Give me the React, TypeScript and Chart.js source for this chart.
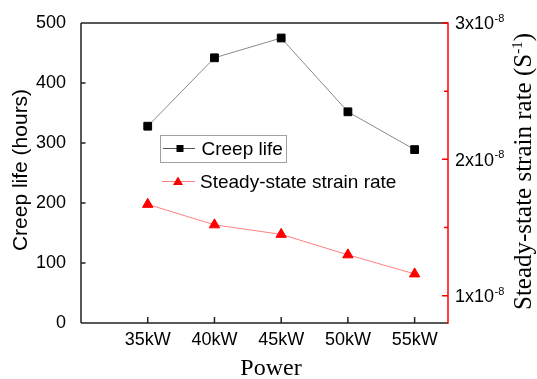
import React, { useEffect, useRef } from 'react';
import { Chart, registerables } from 'chart.js';

Chart.register(...registerables);

// ---- data ----
const powerLabels = ['35kW', '40kW', '45kW', '50kW', '55kW'];
const powerPositions = [1, 2, 3, 4, 5];
const creepLife = [328, 442, 475, 352, 289];
const strainRate = [1.67e-8, 1.52e-8, 1.45e-8, 1.3e-8, 1.16e-8];
const leftTicks = [0, 100, 200, 300, 400, 500];
const rightMajorTicks = [1e-8, 2e-8, 3e-8];
const rightMinorTicks = [1.5e-8, 2.5e-8];
const rightTickMantissa = ['1', '2', '3'];
const rightTickExponent = '-8';
const legendLabels = ['Creep life', 'Steady-state strain rate'];
const leftTitle = 'Creep life (hours)';
const rightTitleMain = 'Steady-state strain rate (S';
const rightTitleSup = '-1';
const rightTitleEnd = ')';
const xTitle = 'Power';

const SANS = "'Liberation Sans', Arial, sans-serif";
const SERIF = "'Liberation Serif', 'Times New Roman', serif";

const decor = {
  id: 'decor',
  beforeDatasetsDraw(chart: any) {
    const ctx = chart.ctx as CanvasRenderingContext2D;
    const a = chart.chartArea;
    const sx = chart.scales.x;
    const sy = chart.scales.y;
    const sy1 = chart.scales.y1;
    ctx.save();
    ctx.lineWidth = 1.5;
    ctx.strokeStyle = '#222';
    ctx.beginPath();
    ctx.moveTo(a.left, a.top);
    ctx.lineTo(a.right, a.top);
    ctx.moveTo(a.left, a.top);
    ctx.lineTo(a.left, a.bottom);
    ctx.moveTo(a.left, a.bottom);
    ctx.lineTo(a.right, a.bottom);
    for (const v of leftTicks) {
      const py = sy.getPixelForValue(v);
      ctx.moveTo(a.left, py);
      ctx.lineTo(a.left + 4.5, py);
    }
    for (const v of powerPositions) {
      const px = sx.getPixelForValue(v);
      ctx.moveTo(px, a.bottom);
      ctx.lineTo(px, a.bottom - 6);
    }
    ctx.stroke();

    ctx.strokeStyle = '#ff0000';
    ctx.beginPath();
    ctx.moveTo(a.right, a.top - 0.75);
    ctx.lineTo(a.right, a.bottom + 0.75);
    for (const v of rightMajorTicks) {
      const py = sy1.getPixelForValue(v);
      ctx.moveTo(a.right, py);
      ctx.lineTo(a.right - 6, py);
    }
    for (const v of rightMinorTicks) {
      const py = sy1.getPixelForValue(v);
      ctx.moveTo(a.right, py);
      ctx.lineTo(a.right - 4, py);
    }
    ctx.stroke();
    ctx.restore();
  },
  afterDraw(chart: any) {
    const ctx = chart.ctx as CanvasRenderingContext2D;
    const a = chart.chartArea;
    const sy1 = chart.scales.y1;
    ctx.save();
    ctx.fillStyle = '#000';

    // right tick labels with superscript exponent
    ctx.textAlign = 'left';
    ctx.textBaseline = 'alphabetic';
    rightMajorTicks.forEach((v, i) => {
      const py = sy1.getPixelForValue(v);
      const base = rightTickMantissa[i] + 'x10';
      ctx.font = `18px ${SANS}`;
      const x0 = a.right + 7;
      ctx.fillText(base, x0, py + 6.4);
      const w = ctx.measureText(base).width;
      ctx.font = `11px ${SANS}`;
      ctx.fillText(rightTickExponent, x0 + w + 0.5, py - 1);
    });

    // left title
    ctx.save();
    ctx.translate(27, 170);
    ctx.rotate(-Math.PI / 2);
    ctx.font = `21px ${SANS}`;
    ctx.textAlign = 'center';
    ctx.textBaseline = 'alphabetic';
    ctx.fillText(leftTitle, 0, 0);
    ctx.restore();

    // right title
    ctx.save();
    ctx.translate(531, 171.5);
    ctx.rotate(-Math.PI / 2);
    ctx.textAlign = 'left';
    ctx.textBaseline = 'alphabetic';
    ctx.font = `25px ${SERIF}`;
    const w1 = ctx.measureText(rightTitleMain).width;
    const w3 = ctx.measureText(rightTitleEnd).width;
    ctx.font = `15px ${SERIF}`;
    const w2 = ctx.measureText(rightTitleSup).width;
    const total = w1 + w2 + w3;
    let cx = -total / 2;
    ctx.font = `25px ${SERIF}`;
    ctx.fillText(rightTitleMain, cx, 0);
    cx += w1;
    ctx.font = `15px ${SERIF}`;
    ctx.fillText(rightTitleSup, cx, -9);
    cx += w2;
    ctx.font = `25px ${SERIF}`;
    ctx.fillText(rightTitleEnd, cx, 0);
    ctx.restore();

    // x title
    ctx.font = `24px ${SERIF}`;
    ctx.textAlign = 'center';
    ctx.textBaseline = 'alphabetic';
    ctx.fillText(xTitle, 271, 375);

    // legend
    ctx.lineWidth = 1;
    ctx.strokeStyle = '#a0a0a0';
    ctx.strokeRect(160.5, 135.5, 126, 27);

    ctx.strokeStyle = '#555';
    ctx.beginPath();
    ctx.moveTo(163, 148.5);
    ctx.lineTo(195, 148.5);
    ctx.stroke();
    ctx.fillStyle = '#000';
    ctx.fillRect(176.5, 145, 7, 7);

    ctx.strokeStyle = '#ff8080';
    ctx.beginPath();
    ctx.moveTo(162, 181.5);
    ctx.lineTo(195, 181.5);
    ctx.stroke();
    ctx.fillStyle = '#ff0000';
    ctx.beginPath();
    ctx.moveTo(178, 176.5);
    ctx.lineTo(183, 185);
    ctx.lineTo(173, 185);
    ctx.closePath();
    ctx.fill();

    ctx.fillStyle = '#000';
    ctx.font = `19px ${SANS}`;
    ctx.textAlign = 'left';
    ctx.fillText(legendLabels[0], 201.5, 155.3);
    ctx.fillText(legendLabels[1], 200, 188.3);

    ctx.restore();
  },
};

export default function App() {
  const ref = useRef<HTMLCanvasElement>(null);
  useEffect(() => {
    const canvas = ref.current;
    if (!canvas) return;
    const chart = new Chart(canvas, {
      type: 'line',
      data: {
        datasets: [
          {
            label: legendLabels[0],
            data: powerPositions.map((x, i) => ({ x, y: creepLife[i] })),
            yAxisID: 'y',
            borderColor: '#8a8a8a',
            borderWidth: 1,
            pointStyle: 'rect',
            pointRadius: 5.5,
            pointBackgroundColor: '#000',
            pointBorderColor: '#000',
            pointBorderWidth: 1,
            tension: 0,
          },
          {
            label: legendLabels[1],
            data: powerPositions.map((x, i) => ({ x, y: strainRate[i] })),
            yAxisID: 'y1',
            borderColor: '#ff8080',
            borderWidth: 1,
            pointStyle: 'triangle',
            pointRadius: 6,
            pointBackgroundColor: '#ff0000',
            pointBorderColor: '#ff0000',
            pointBorderWidth: 1,
            tension: 0,
          },
        ],
      },
      options: {
        responsive: false,
        animation: false,
        layout: { padding: { top: 23, left: 0, right: 0, bottom: 0 } },
        plugins: { legend: { display: false }, tooltip: { enabled: false } },
        scales: {
          x: {
            type: 'linear',
            min: 0,
            max: 5.5,
            grid: { display: false },
            border: { display: false },
            afterBuildTicks: (s: any) => {
              s.ticks = powerPositions.map((v) => ({ value: v }));
            },
            afterFit: (s: any) => {
              s.height = 56;
            },
            ticks: {
              font: { size: 18, family: SANS },
              color: '#000',
              padding: -2,
              autoSkip: false,
              maxRotation: 0,
              callback: (v: any) => {
                const i = powerPositions.indexOf(Number(v));
                return i >= 0 ? powerLabels[i] : '';
              },
            },
          },
          y: {
            position: 'left',
            min: 0,
            max: 500,
            grid: { display: false },
            border: { display: false },
            afterFit: (s: any) => {
              s.width = 81;
            },
            ticks: {
              stepSize: 100,
              font: { size: 18, family: SANS },
              color: '#000',
              padding: 7,
            },
          },
          y1: {
            position: 'right',
            min: 0.8e-8,
            max: 3e-8,
            grid: { display: false },
            border: { display: false },
            afterFit: (s: any) => {
              s.width = 89;
            },
            ticks: { display: false },
          },
        },
      },
      plugins: [decor],
    } as any);
    return () => chart.destroy();
  }, []);
  return (
    <div style={{ position: 'absolute', left: 0, top: 0, width: 537, height: 379, background: '#fff' }}>
      <canvas ref={ref} width={537} height={379} style={{ display: 'block', width: 537, height: 379 }} />
    </div>
  );
}
